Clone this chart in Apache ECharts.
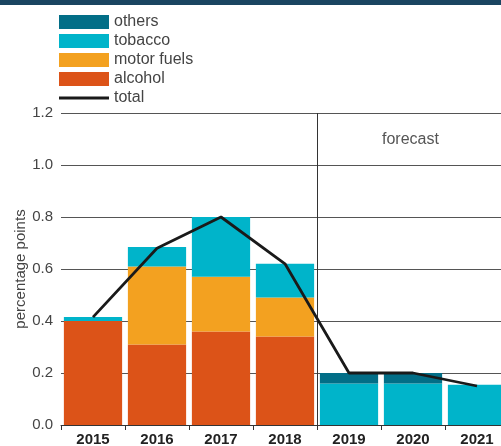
<!DOCTYPE html>
<html><head><meta charset="utf-8">
<script src="https://cdn.jsdelivr.net/npm/echarts@6/dist/echarts.min.js"></script>
<style>html,body{margin:0;padding:0;background:#fff}#c{width:501px;height:446px}</style>
</head><body><div id="c"></div>
<script>
var years = ['2015','2016','2017','2018','2019','2020','2021'];
var alcohol = [0.40, 0.31, 0.36, 0.34, 0, 0, 0];
var motorFuels = [0.0, 0.30, 0.21, 0.15, 0, 0, 0];
var tobacco = [0.015, 0.075, 0.23, 0.13, 0.16, 0.16, 0.155];
var others = [0, 0, 0, 0, 0.04, 0.04, 0];
var total = [0.415, 0.68, 0.80, 0.62, 0.20, 0.20, 0.15];
var yTicks = [0, 1.2, 0.2];
var forecastStart = 4;

var font = 'Liberation Sans';
var chart = echarts.init(document.getElementById('c'));
var barCommon = {type:'bar', stack:'s', barCategoryGap:'9%', xAxisIndex:0, yAxisIndex:0};
chart.setOption({
  animation:false,
  textStyle:{fontFamily:font},
  graphic:[
    {type:'rect', shape:{x:0,y:0,width:501,height:5}, style:{fill:'#1a4561'}},
    {type:'text', left:382, top:132, style:{text:'forecast', fill:'#555', font:'16px "Liberation Sans"'}}
  ],
  legend:{
    orient:'vertical', left:59, top:14, padding:0, itemWidth:50, itemHeight:14, itemGap:3,
    icon:'rect', symbolKeepAspect:true,
    textStyle:{fontSize:16, color:'#444', fontFamily:font},
    data:['others','tobacco','motor fuels','alcohol',
      {name:'total', icon:'path://M0,0 L50,0 L50,3 L0,3 Z', itemStyle:{color:'#1a1a1a'}}]
  },
  grid:{left:61, top:113, width:448, height:312, outerBoundsMode:'none', containLabel:false},
  xAxis:[{
    type:'category', data:years,
    axisLine:{lineStyle:{color:'#333', width:1}},
    axisTick:{show:true, length:5, lineStyle:{color:'#333'}},
    axisLabel:{fontWeight:'bold', fontSize:15, color:'#222', margin:7, fontFamily:font}
  },{
    type:'value', min:0, max:years.length, show:false
  }],
  yAxis:{
    type:'value', min:yTicks[0], max:yTicks[1], interval:yTicks[2],
    name:'percentage points', nameLocation:'middle', nameGap:33, nameMoveOverlap:false,
    nameTextStyle:{fontSize:15, color:'#444', fontFamily:font},
    axisLine:{show:false}, axisTick:{show:false},
    axisLabel:{fontSize:15, color:'#444', margin:8, formatter:function(v){return v.toFixed(1);}},
    splitLine:{lineStyle:{color:'#555', width:1}}
  },
  series:[
    Object.assign({name:'alcohol', data:alcohol, itemStyle:{color:'#dc5318'}}, barCommon),
    Object.assign({name:'motor fuels', data:motorFuels, itemStyle:{color:'#f3a120'}}, barCommon),
    Object.assign({name:'tobacco', data:tobacco, itemStyle:{color:'#00b4ca'}}, barCommon),
    Object.assign({name:'others', data:others, itemStyle:{color:'#026e87'}}, barCommon),
    {name:'total', type:'line', data:total, symbol:'none', z:5,
     lineStyle:{color:'#1a1a1a', width:2.8}, itemStyle:{color:'#1a1a1a'}},
    {name:'divider', type:'line', xAxisIndex:1, yAxisIndex:0, data:[], silent:true,
     markLine:{symbol:'none', silent:true, label:{show:false},
       lineStyle:{color:'#333', width:1, type:'solid'},
       data:[{xAxis:forecastStart}]}}
  ]
});
</script></body></html>
